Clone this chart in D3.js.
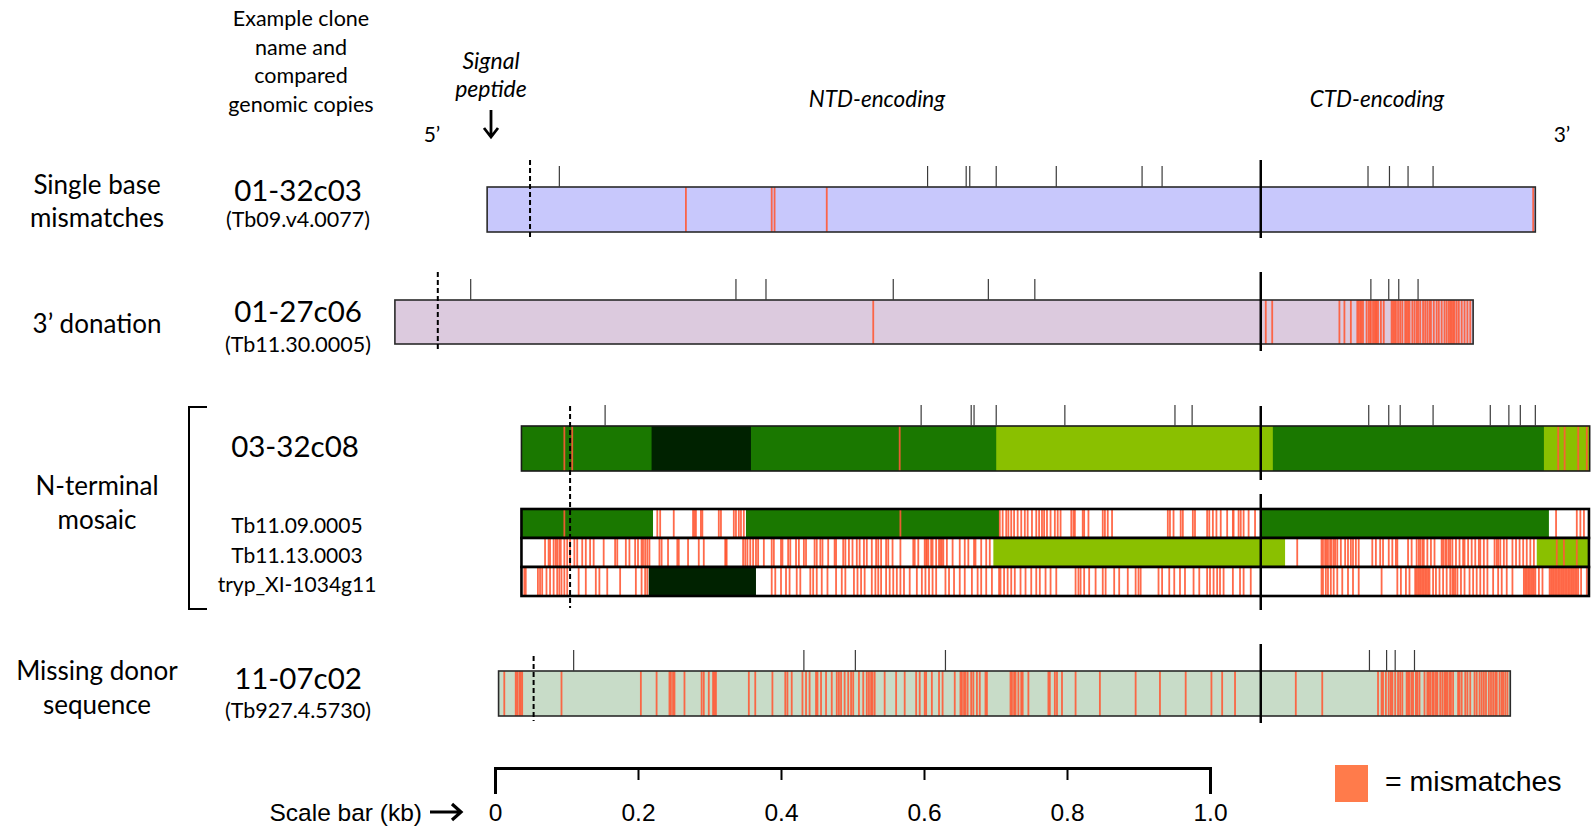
<!DOCTYPE html>
<html><head><meta charset="utf-8">
<script src="https://cdn.jsdelivr.net/npm/d3@7"></script>
<style>body{margin:0;background:#fff} svg{display:block}</style>
</head><body>
<svg id="chart" width="1594" height="829"></svg>
<script>
// ---------------- DATA (positions in bp along the alignment) ----------------
const groupLabels = [["Single base","mismatches"],["3\u2019 donation"],["N-terminal","mosaic"],["Missing donor","sequence"]];
const cloneNames = ["01-32c03","01-27c06","03-32c08","11-07c02"];
const comparedCopies = ["(Tb09.v4.0077)","(Tb11.30.0005)","(Tb927.4.5730)"];
const donorNames = ["Tb11.09.0005","Tb11.13.0003","tryp_XI-1034g11"];
const headerLines = ["Example clone","name and","compared","genomic copies"];
const scaleTicks = [0,200,400,600,800,1000];
const scaleLabels = ["0","0.2","0.4","0.6","0.8","1.0"];
const ctdBoundary = 1071;

const bar1Extent = [-11, 1455];
const bar1SignalEnd = 49;
const bar1Ticks = [90, 605, 659, 664, 701, 785, 905, 933, 1221, 1251, 1277, 1312];
const bar1Mismatches = [267, 387, 391, 464, 1452];

const bar2Extent = [-140, 1368];
const bar2SignalEnd = -80;
const bar2Ticks = [-34, 337, 379, 557, 690, 755, 1225, 1250, 1264, 1291];
const bar2Mismatches = [529, 1078, 1087, 1181, 1188, 1197, 1206, 1208, 1210, 1212, 1214, 1219, 1222, 1224, 1225, 1228, 1230, 1232, 1233, 1235, 1239, 1243, 1254, 1256, 1258, 1260, 1263, 1266, 1269, 1273, 1275, 1277, 1279, 1283, 1286, 1289, 1291, 1294, 1298, 1301, 1304, 1307, 1309, 1313, 1317, 1320, 1324, 1328, 1331, 1334, 1336, 1338, 1340, 1342, 1345, 1348, 1352, 1356, 1360, 1364];

const bar3Extent = [37, 1531];
const bar3SignalEnd = 105;
const bar3Segments = [[37,219,"Tb11.09.0005"],[219,358,"tryp_XI-1034g11"],[358,701,"Tb11.09.0005"],[701,1088,"Tb11.13.0003"],[1088,1467,"Tb11.09.0005"],[1467,1531,"Tb11.13.0003"]];
const bar3Ticks = [154, 596, 666, 670, 701, 797, 951, 975, 1222, 1250, 1266, 1312, 1392, 1418, 1434, 1455];
const bar3Mismatches = [97, 108, 566, 1487, 1496, 1515, 1527];

const mosaicExtent = [37, 1530];
const mosaicSignalEnd = 106;
const donor1Segments = [[37,221,"Tb11.09.0005"],[351,705,"Tb11.09.0005"],[1071,1474,"Tb11.09.0005"]];
const donor1Mismatches = [97, 227, 231, 250, 277, 279, 281, 288, 290, 313, 316, 334, 337, 341, 344, 348, 567, 706, 710, 715, 718, 722, 726, 731, 736, 741, 745, 751, 757, 761, 765, 768, 772, 777, 783, 787, 791, 806, 809, 811, 822, 824, 830, 850, 853, 857, 863, 941, 944, 949, 959, 962, 976, 979, 996, 999, 1004, 1009, 1015, 1024, 1032, 1033, 1040, 1043, 1047, 1054, 1063, 1484, 1513, 1518, 1523];
const donor2Segments = [[697,1105,"Tb11.13.0003"],[1457,1530,"Tb11.13.0003"]];
const donor2Mismatches = [70, 75, 77, 82, 85, 87, 90, 92, 97, 101, 105, 111, 115, 122, 127, 133, 138, 152, 168, 171, 183, 188, 196, 200, 205, 207, 210, 213, 216, 230, 233, 242, 255, 257, 270, 285, 292, 322, 323, 324, 347, 350, 353, 357, 361, 365, 368, 376, 387, 390, 400, 402, 410, 413, 421, 425, 432, 435, 447, 450, 455, 458, 466, 475, 477, 487, 490, 495, 500, 506, 510, 516, 520, 527, 533, 536, 540, 547, 550, 556, 567, 585, 587, 592, 601, 603, 604, 606, 610, 612, 617, 621, 623, 625, 627, 632, 640, 650, 657, 662, 670, 672, 680, 687, 692, 1122, 1156, 1158, 1161, 1163, 1165, 1168, 1170, 1173, 1175, 1178, 1183, 1189, 1193, 1197, 1200, 1204, 1208, 1227, 1232, 1238, 1242, 1250, 1255, 1260, 1262, 1277, 1282, 1289, 1292, 1294, 1297, 1299, 1304, 1309, 1314, 1324, 1326, 1329, 1331, 1334, 1336, 1339, 1344, 1349, 1354, 1356, 1361, 1366, 1371, 1376, 1378, 1383, 1388, 1398, 1401, 1403, 1406, 1411, 1415, 1423, 1428, 1433, 1438, 1443, 1448, 1453, 1485, 1495, 1513];
const donor3Segments = [[215,365,"tryp_XI-1034g11"]];
const donor3Mismatches = [41, 43, 60, 63, 66, 72, 77, 82, 87, 90, 93, 97, 101, 117, 127, 141, 146, 157, 175, 197, 205, 210, 213, 387, 392, 400, 407, 412, 422, 427, 441, 445, 450, 457, 465, 477, 485, 490, 502, 507, 512, 517, 527, 532, 536, 540, 547, 552, 557, 562, 567, 572, 580, 590, 597, 602, 607, 612, 617, 630, 635, 642, 650, 657, 667, 675, 680, 687, 695, 705, 707, 712, 717, 722, 727, 735, 742, 750, 757, 762, 770, 777, 785, 812, 816, 819, 824, 831, 840, 850, 854, 866, 873, 885, 896, 900, 903, 928, 933, 943, 950, 958, 965, 977, 985, 996, 1000, 1005, 1010, 1014, 1019, 1032, 1042, 1047, 1057, 1156, 1158, 1162, 1165, 1169, 1173, 1178, 1185, 1193, 1200, 1208, 1240, 1262, 1267, 1274, 1279, 1287, 1289, 1291, 1293, 1295, 1297, 1299, 1301, 1303, 1305, 1307, 1312, 1316, 1321, 1326, 1331, 1336, 1339, 1341, 1343, 1346, 1351, 1356, 1363, 1368, 1373, 1378, 1383, 1388, 1396, 1403, 1408, 1415, 1423, 1439, 1441, 1443, 1445, 1447, 1449, 1451, 1453, 1455, 1460, 1465, 1475, 1477, 1479, 1481, 1483, 1485, 1487, 1489, 1491, 1493, 1495, 1497, 1499, 1501, 1503, 1505, 1507, 1509, 1511, 1513, 1515, 1519, 1527];

const bar5Extent = [5, 1420];
const bar5SignalEnd = 54;
const bar5Ticks = [110, 432, 504, 630, 1223, 1247, 1259, 1286];
const bar5Mismatches = [13, 29, 31, 34, 36, 38, 93, 204, 226, 244, 246, 249, 251, 265, 289, 292, 299, 305, 307, 309, 355, 364, 388, 406, 409, 415, 430, 435, 440, 449, 451, 456, 463, 471, 478, 481, 484, 489, 494, 498, 501, 509, 515, 520, 523, 526, 528, 531, 545, 561, 573, 589, 594, 601, 603, 611, 621, 626, 643, 651, 653, 656, 658, 661, 666, 669, 674, 678, 686, 688, 721, 723, 726, 728, 732, 736, 738, 746, 774, 776, 783, 786, 793, 812, 846, 896, 930, 966, 1002, 1017, 1035, 1120, 1157, 1235, 1240, 1242, 1246, 1250, 1253, 1255, 1259, 1263, 1266, 1269, 1275, 1277, 1279, 1282, 1284, 1288, 1290, 1293, 1300, 1304, 1306, 1308, 1311, 1313, 1316, 1318, 1322, 1325, 1328, 1330, 1332, 1335, 1337, 1340, 1347, 1349, 1352, 1357, 1360, 1364, 1370, 1373, 1377, 1380, 1383, 1386, 1390, 1393, 1396, 1399, 1401, 1405, 1408, 1410, 1413, 1416];

// ---------------- DRAWING ----------------
const svg = d3.select("#chart");
const x = d3.scaleLinear().domain([0, 1000]).range([495, 1210]);
const donorColor = d3.scaleOrdinal().domain(donorNames).range(["#1a7800", "#8ac000", "#002200"]);
const MM = "#ff5a36";
const F = "Lato, 'Open Sans', sans-serif";
const A = "'Liberation Sans', Arial, sans-serif";

function track(top, h, extent, baseFill, segs, mms, strokeCol, sw) {
  const g = svg.append("g");
  g.append("rect").attr("x", x(extent[0])).attr("y", top)
    .attr("width", x(extent[1]) - x(extent[0])).attr("height", h).attr("fill", baseFill);
  g.selectAll("rect.seg").data(segs).join("rect").attr("class", "seg")
    .attr("x", d => x(d[0])).attr("y", top).attr("width", d => x(d[1]) - x(d[0]))
    .attr("height", h).attr("fill", d => donorColor(d[2]));
  g.selectAll("rect.mm").data(mms).join("rect").attr("class", "mm")
    .attr("x", d => x(d) - 0.9).attr("y", top).attr("width", 1.8).attr("height", h)
    .attr("fill", MM).attr("opacity", 0.9);
  g.append("rect").attr("x", x(extent[0])).attr("y", top)
    .attr("width", x(extent[1]) - x(extent[0])).attr("height", h)
    .attr("fill", "none").attr("stroke", strokeCol).attr("stroke-width", sw);
}
function ticksAbove(top, pos) {
  svg.append("g").selectAll("line").data(pos).join("line")
    .attr("x1", d => x(d)).attr("x2", d => x(d)).attr("y1", top - 21).attr("y2", top)
    .attr("stroke", "#3a3a3a").attr("stroke-width", 1.2);
}
function vline(p, y1, y2, dashed) {
  svg.append("line").attr("x1", x(p)).attr("x2", x(p)).attr("y1", y1).attr("y2", y2)
    .attr("stroke", "#000").attr("stroke-width", dashed ? 2 : 2.5)
    .attr("stroke-dasharray", dashed ? "5,3" : null);
}
function text(tx, ty, str, size, opts = {}) {
  svg.append("text").attr("x", tx).attr("y", ty).text(str)
    .attr("font-family", opts.family || F).attr("font-size", size)
    .attr("font-style", opts.italic ? "italic" : null)
    .attr("text-anchor", opts.anchor || "middle").attr("dominant-baseline", "central")
    .attr("fill", "#000");
}

// Bar 1
track(187, 45, bar1Extent, "#c8c8fc", [], bar1Mismatches, "#2a2a2a", 1.6);
ticksAbove(187, bar1Ticks);
vline(bar1SignalEnd, 160, 238, true);
vline(ctdBoundary, 160, 238, false);
// Bar 2
track(300, 44, bar2Extent, "#dccade", [], bar2Mismatches, "#2a2a2a", 1.6);
ticksAbove(300, bar2Ticks);
vline(bar2SignalEnd, 272, 350, true);
vline(ctdBoundary, 272, 351, false);
// Bar 3
track(426, 45, bar3Extent, "#1a7800", bar3Segments, bar3Mismatches, "#1a1a1a", 1.6);
ticksAbove(426, bar3Ticks);
// Mosaic rows
const rowTop = 509, rowH = 29;
track(rowTop, rowH, mosaicExtent, "#fff", donor1Segments, donor1Mismatches, "#000", 2.6);
track(rowTop + rowH, rowH, mosaicExtent, "#fff", donor2Segments, donor2Mismatches, "#000", 2.6);
track(rowTop + 2 * rowH, rowH, mosaicExtent, "#fff", donor3Segments, donor3Mismatches, "#000", 2.6);
vline(bar3SignalEnd, 406, 608, true);
vline(ctdBoundary, 406, 480, false);
vline(ctdBoundary, 494, 610, false);
// Bar 5
track(671, 45, bar5Extent, "#c8dcc8", [], bar5Mismatches, "#2a2a2a", 1.6);
ticksAbove(671, bar5Ticks);
vline(bar5SignalEnd, 656, 721, true);
vline(ctdBoundary, 644, 723, false);

// Bracket for the mosaic group
svg.append("path").attr("d", "M207,407 H189 V609 H207").attr("fill", "none")
  .attr("stroke", "#000").attr("stroke-width", 2);

// Header
headerLines.forEach((s, i) => text(301, 18 + i * 28.5, s, 21.5));
text(491, 60, "Signal", 23, {italic: true});
text(491, 88, "peptide", 23, {italic: true});
svg.append("path").attr("d", "M491,110 V136 M484,128 L491,137 L498,128")
  .attr("fill", "none").attr("stroke", "#000").attr("stroke-width", 2.8);
text(432, 133, "5\u2019", 21);
text(1562, 133, "3\u2019", 21);
text(877, 98, "NTD-encoding", 22.5, {italic: true});
text(1377, 98, "CTD-encoding", 22.5, {italic: true});

// Group labels
const groupY = [[184, 217], [323], [485, 518.5], [670, 703.5]];
groupLabels.forEach((lines, i) => lines.forEach((s, j) => text(97, groupY[i][j], s, 26)));

// Clone names & compared copies
text(298, 189, cloneNames[0], 29.5);
text(298, 219, comparedCopies[0], 21.5);
text(298, 310, cloneNames[1], 29.5);
text(298, 344, comparedCopies[1], 21.5);
text(295, 445, cloneNames[2], 29.5);
donorNames.forEach((s, i) => text(297, 524.5 + i * 29.5, s, 21));
text(298, 677, cloneNames[3], 29.5);
text(298, 710, comparedCopies[2], 21.5);

// Scale bar
const axis = d3.axisBottom(x).tickValues(scaleTicks).tickFormat((d, i) => scaleLabels[i])
  .tickSize(12).tickSizeOuter(26);
const ag = svg.append("g").attr("transform", "translate(0,768)").call(axis);
ag.select(".domain").attr("stroke", "#000").attr("stroke-width", 3);
ag.selectAll(".tick line").attr("stroke", "#000").attr("stroke-width", 2);
ag.selectAll(".tick text").attr("y", 44).attr("dy", "0.35em")
  .attr("font-family", A).attr("font-size", 24.5).attr("fill", "#000");
text(422, 812, "Scale bar (kb)", 24.5, {family: A, anchor: "end"});
svg.append("path").attr("d", "M430,812 H460 M452,804 L461,812 L452,820")
  .attr("fill", "none").attr("stroke", "#000").attr("stroke-width", 3.2);

// Legend
svg.append("rect").attr("x", 1335).attr("y", 765).attr("width", 33).attr("height", 37).attr("fill", "#ff7b4b");
text(1385, 781, "= mismatches", 28.5, {family: A, anchor: "start"});
</script>
</body></html>
